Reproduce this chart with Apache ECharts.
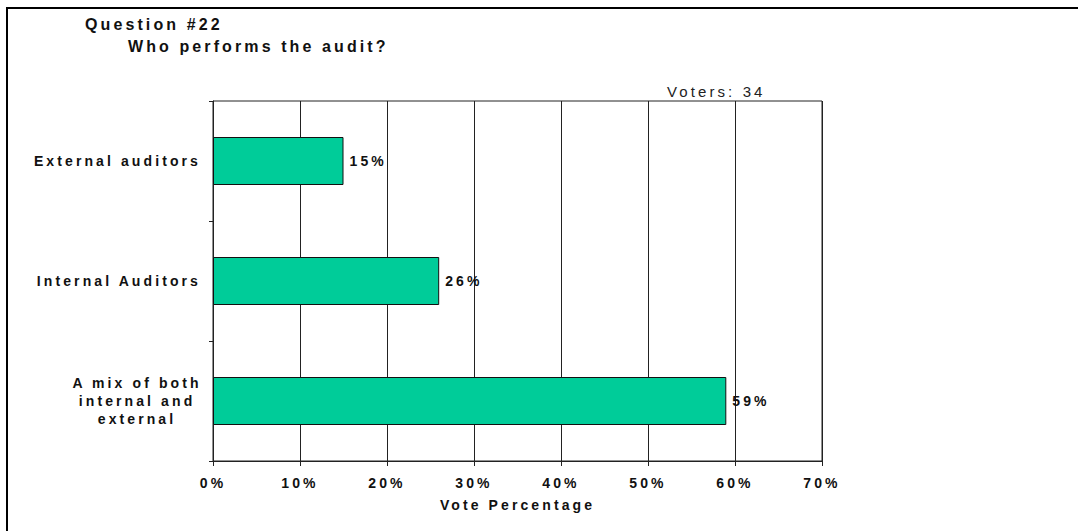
<!DOCTYPE html>
<html>
<head>
<meta charset="utf-8">
<script src="https://cdn.jsdelivr.net/npm/echarts@6/dist/echarts.min.js"></script>
<style>
  html, body { margin: 0; padding: 0; background: #fff; }
  #chart { width: 1078px; height: 531px; }
  /* wide tracking on every text element of the SVG chart */
  #chart text { letter-spacing: 3.1px; }
</style>
</head>
<body>
<div id="chart"></div>
<script>
// Survey answers, top to bottom
const categories = ['External auditors', 'Internal Auditors', 'A mix of both\ninternal and\nexternal'];
// Share of votes per answer (%)
const votePercent = [15, 26, 59];
// Horizontal axis ticks (%)
const tickValues = [0, 10, 20, 30, 40, 50, 60, 70];
const questionTitle = 'Question #22';
const questionText = 'Who performs the audit?';
const votersNote = 'Voters: 34';
const axisName = 'Vote Percentage';

const FONT = '"Liberation Sans", Arial, Helvetica, sans-serif';
const INK = '#111';
const chart = echarts.init(document.getElementById('chart'), null, { renderer: 'svg' });

// multi-line answers are centred as a block to the left of the axis
const yData = categories.map(c => c.indexOf('\n') >= 0
  ? { value: c, textStyle: { align: 'center', padding: [0, 128, 0, 0] } }
  : c);

chart.setOption({
  animation: false,
  backgroundColor: '#ffffff',
  textStyle: { fontFamily: FONT },
  title: [
    { text: questionTitle, left: 85, top: 16, padding: 0,
      textStyle: { fontFamily: FONT, fontSize: 16, fontWeight: 'bold', color: INK } },
    { text: questionText, left: 128, top: 38, padding: 0,
      textStyle: { fontFamily: FONT, fontSize: 16, fontWeight: 'bold', color: INK } }
  ],
  graphic: [
    // page frame: top and left rules
    { type: 'line', shape: { x1: 6, y1: 8, x2: 1078, y2: 8 }, style: { stroke: '#000', lineWidth: 2 } },
    { type: 'line', shape: { x1: 7, y1: 8, x2: 7, y2: 531 }, style: { stroke: '#000', lineWidth: 2 } },
    { type: 'text', left: 667, top: 84,
      style: { text: votersNote, fontFamily: FONT, fontSize: 15, fill: '#222' } }
  ],
  grid: {
    left: 213, right: 256, top: 101, bottom: 70,
    show: true, borderColor: '#222', borderWidth: 1, backgroundColor: 'transparent'
  },
  xAxis: {
    type: 'value',
    min: tickValues[0],
    max: tickValues[tickValues.length - 1],
    interval: 10,
    name: axisName,
    nameLocation: 'middle',
    nameGap: 37,
    nameTextStyle: { fontFamily: FONT, fontSize: 14, fontWeight: 'bold', color: INK },
    axisLine: { show: true, lineStyle: { color: '#222', width: 1 } },
    axisTick: { show: true, length: 5, inside: false, lineStyle: { color: '#222' } },
    splitLine: { show: true, lineStyle: { color: '#222', width: 1 } },
    axisLabel: {
      margin: 15, fontFamily: FONT, fontSize: 14, fontWeight: 'bold', color: INK,
      formatter: v => v + '%'
    }
  },
  yAxis: {
    type: 'category',
    data: yData,
    inverse: true,
    axisLine: { show: true, lineStyle: { color: '#222', width: 1 } },
    axisTick: { show: true, length: 4, lineStyle: { color: '#222' } },
    axisLabel: {
      margin: 12, fontFamily: FONT, fontSize: 14, fontWeight: 'bold', color: INK,
      lineHeight: 18
    },
    splitLine: { show: false }
  },
  series: [{
    type: 'bar',
    data: votePercent,
    barWidth: '40%',
    itemStyle: { color: '#00cc99', borderColor: '#111', borderWidth: 1 },
    label: {
      show: true, position: 'right', distance: 6,
      fontFamily: FONT, fontSize: 14, fontWeight: 'bold', color: INK,
      formatter: p => p.value + '%'
    }
  }]
});
</script>
</body>
</html>
